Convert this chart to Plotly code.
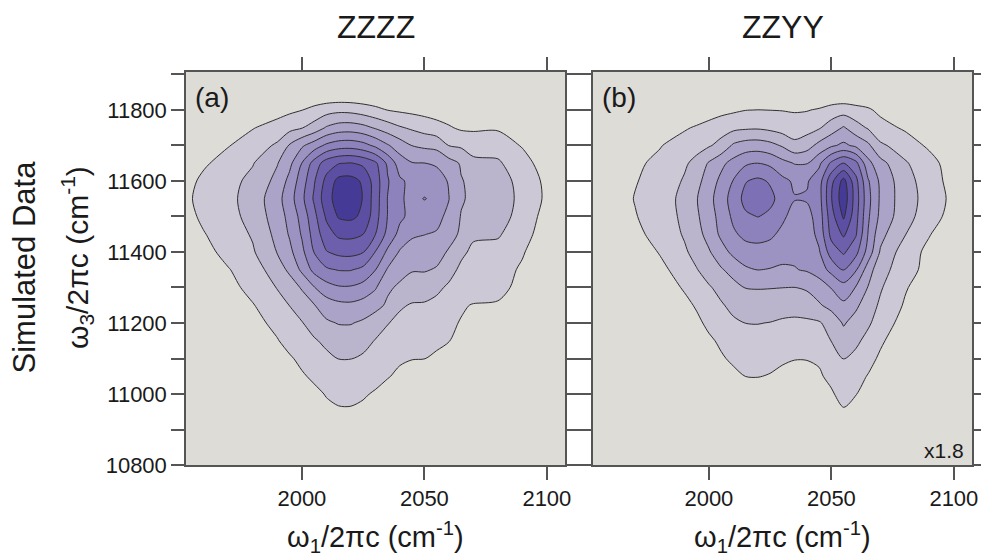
import plotly.graph_objects as go

# Axis grids (cm^-1)
omega1 = [1950, 1960, 1970, 1980, 1990, 1995, 2000, 2005, 2010, 2015, 2020, 2025,
          2030, 2035, 2040, 2045, 2050, 2055, 2060, 2065, 2070, 2080, 2090, 2100, 2110]
omega3 = [10850, 10900, 10950, 11000, 11050, 11100, 11150, 11200, 11250, 11300, 11350,
          11400, 11450, 11500, 11550, 11600, 11650, 11700, 11750, 11800, 11850, 11900]

# Simulated signal, ZZZZ polarization (rows follow omega3, columns follow omega1)
signal_zzzz = [
    [0]*25,
    [0]*25,
    [0.0, 0.0, 0.0, 0.0, 0.0, 0.1, 0.3, 0.55, 0.8, 0.9, 0.9, 0.8, 0.6, 0.45, 0.3, 0.2, 0.1, 0.05, 0.0, 0.0, 0.0, 0.0, 0.0, 0.0, 0.0],
    [0.0, 0.0, 0.0, 0.0, 0.1, 0.3, 0.55, 0.8, 1.05, 1.2, 1.22, 1.1, 0.9, 0.7, 0.55, 0.45, 0.35, 0.25, 0.15, 0.05, 0.0, 0.0, 0.0, 0.0, 0.0],
    [0.0, 0.0, 0.0, 0.0, 0.3, 0.6, 0.9, 1.15, 1.4, 1.55, 1.6, 1.5, 1.3, 1.05, 0.85, 0.75, 0.65, 0.55, 0.4, 0.25, 0.15, 0.0, 0.0, 0.0, 0.0],
    [0.0, 0.0, 0.0, 0.1, 0.6, 0.9, 1.2, 1.5, 1.8, 2.02, 2.02, 1.85, 1.55, 1.3, 1.1, 1.02, 1.01, 0.92, 0.75, 0.55, 0.4, 0.05, 0.0, 0.0, 0.0],
    [0.0, 0.0, 0.0, 0.35, 0.95, 1.3, 1.6, 1.9, 2.2, 2.45, 2.5, 2.35, 1.95, 1.6, 1.4, 1.3, 1.2, 1.1, 1.02, 0.8, 0.6, 0.25, 0.0, 0.0, 0.0],
    [0.0, 0.0, 0.15, 0.7, 1.25, 1.6, 1.95, 2.4, 2.85, 3.05, 3.05, 2.85, 2.5, 2.05, 1.7, 1.55, 1.45, 1.3, 1.15, 0.95, 0.75, 0.45, 0.1, 0.0, 0.0],
    [0.0, 0.0, 0.45, 0.95, 1.6, 2.02, 2.45, 2.95, 3.5, 3.75, 3.8, 3.6, 3.3, 2.85, 2.15, 1.9, 1.9, 1.75, 1.35, 1.1, 0.95, 0.9, 0.3, 0.0, 0.0],
    [0.0, 0.2, 0.7, 1.3, 2.05, 2.5, 3.1, 3.95, 4.6, 4.9, 4.9, 4.65, 4.1, 3.15, 2.85, 2.65, 2.45, 2.2, 1.85, 1.6, 1.5, 1.3, 0.7, 0.05, 0.0],
    [0.0, 0.45, 0.95, 1.5, 2.55, 3.2, 4.2, 5.3, 5.85, 6.05, 6.05, 5.75, 5.02, 3.9, 3.3, 3.05, 3.08, 2.92, 2.35, 1.8, 1.65, 1.45, 0.85, 0.15, 0.0],
    [0.1, 0.7, 1.3, 1.9, 3.05, 3.75, 4.75, 6.03, 6.95, 7.25, 7.3, 7.05, 5.97, 4.8, 3.9, 3.7, 3.55, 3.35, 2.9, 2.2, 1.8, 1.7, 1.1, 0.2, 0.0],
    [0.3, 0.95, 1.5, 2.1, 3.3, 4.1, 5.1, 6.4, 7.6, 8.2, 8.25, 8.0, 7.02, 5.7, 4.7, 4.1, 4.02, 3.9, 3.35, 2.85, 2.15, 2.1, 1.45, 0.4, 0.0],
    [0.5, 1.2, 1.65, 2.35, 3.5, 4.3, 5.35, 6.7, 8.15, 9.1, 9.2, 8.8, 7.4, 5.97, 5.2, 4.7, 4.6, 4.35, 3.7, 2.95, 2.75, 2.4, 1.65, 0.6, 0.1],
    [0.6, 1.35, 1.75, 2.42, 3.66, 4.57, 5.75, 7.14, 8.6, 9.45, 9.6, 8.95, 7.5, 5.97, 5.1, 4.8, 5.03, 4.85, 4.03, 3.1, 2.8, 2.4, 1.8, 0.8, 0.2],
    [0.4, 1.25, 1.7, 2.25, 3.3, 4.3, 5.5, 6.9, 8.3, 9.3, 9.35, 8.85, 7.5, 6.1, 5.15, 4.75, 4.7, 4.55, 3.9, 3.05, 2.8, 2.4, 1.7, 0.75, 0.2],
    [0.1, 0.85, 1.45, 1.95, 2.95, 3.75, 5.02, 6.4, 7.5, 7.95, 8.05, 7.8, 7.2, 5.8, 4.5, 4.05, 4.02, 3.85, 3.4, 2.9, 2.15, 2.1, 1.55, 0.3, 0.0],
    [0.0, 0.4, 0.95, 1.5, 2.15, 3.1, 3.85, 4.5, 5.2, 5.55, 5.6, 5.35, 4.8, 4.1, 3.5, 2.98, 2.8, 2.7, 1.98, 1.85, 1.75, 1.7, 0.9, 0.2, 0.0],
    [0.0, 0.0, 0.45, 0.95, 1.4, 1.7, 1.95, 2.4, 3.1, 3.45, 3.5, 3.3, 2.9, 2.5, 2.1, 1.85, 1.6, 1.35, 1.1, 0.85, 0.8, 0.85, 0.4, 0.0, 0.0],
    [0.0, 0.0, 0.1, 0.35, 0.6, 0.8, 0.98, 1.3, 1.6, 1.75, 1.7, 1.5, 1.25, 0.98, 0.85, 0.75, 0.65, 0.55, 0.45, 0.35, 0.3, 0.2, 0.0, 0.0, 0.0],
    [0]*25,
    [0]*25,
]

# Simulated signal, ZZYY polarization (displayed scaled by 1.8)
signal_zzyy = [
    [0]*25,
    [0]*25,
    [0.0, 0.0, 0.0, 0.0, 0.0, 0.0, 0.0, 0.0, 0.0, 0.05, 0.1, 0.1, 0.05, 0.05, 0.1, 0.3, 0.5, 0.9, 0.6, 0.3, 0.1, 0.0, 0.0, 0.0, 0.0],
    [0.0, 0.0, 0.0, 0.0, 0.0, 0.0, 0.0, 0.15, 0.3, 0.45, 0.5, 0.45, 0.35, 0.3, 0.4, 0.6, 0.9, 1.3, 1.03, 0.7, 0.35, 0.0, 0.0, 0.0, 0.0],
    [0.0, 0.0, 0.0, 0.0, 0.0, 0.0, 0.25, 0.5, 0.8, 1.01, 1.03, 0.95, 0.8, 0.7, 0.75, 0.9, 1.2, 1.6, 1.3, 0.95, 0.6, 0.0, 0.0, 0.0, 0.0],
    [0.0, 0.0, 0.0, 0.0, 0.0, 0.2, 0.55, 0.9, 1.15, 1.3, 1.32, 1.25, 1.12, 1.03, 1.03, 1.1, 1.5, 2.02, 1.75, 1.3, 0.85, 0.15, 0.0, 0.0, 0.0],
    [0.0, 0.0, 0.0, 0.0, 0.1, 0.45, 0.85, 1.15, 1.4, 1.55, 1.6, 1.55, 1.45, 1.4, 1.45, 1.6, 2.02, 2.55, 2.2, 1.7, 1.15, 0.35, 0.0, 0.0, 0.0],
    [0.0, 0.0, 0.0, 0.0, 0.4, 0.8, 1.2, 1.55, 1.85, 2.01, 2.03, 1.97, 1.85, 1.8, 1.8, 1.9, 2.4, 3.1, 2.6, 2.15, 1.55, 0.6, 0.05, 0.0, 0.0],
    [0.0, 0.0, 0.0, 0.15, 0.75, 1.1, 1.55, 1.9, 2.25, 2.55, 2.65, 2.6, 2.45, 2.4, 2.6, 2.9, 3.3, 3.8, 3.2, 2.45, 1.85, 0.9, 0.2, 0.0, 0.0],
    [0.0, 0.0, 0.0, 0.45, 1.1, 1.5, 1.9, 2.3, 2.7, 3.03, 3.04, 3.03, 3.01, 2.99, 3.1, 3.45, 4.05, 4.6, 3.95, 2.95, 2.1, 1.1, 0.4, 0.0, 0.0],
    [0.0, 0.0, 0.2, 0.8, 1.35, 1.95, 2.45, 2.9, 3.35, 3.85, 4.02, 3.95, 3.85, 3.95, 4.1, 4.5, 5.3, 6.05, 5.1, 3.5, 2.3, 1.55, 0.55, 0.0, 0.0],
    [0.0, 0.0, 0.55, 1.05, 1.85, 2.35, 2.9, 3.6, 4.25, 4.6, 4.65, 4.55, 4.35, 4.2, 4.5, 4.9, 6.5, 7.15, 6.3, 4.6, 2.9, 1.5, 0.75, 0.1, 0.0],
    [0.0, 0.15, 0.8, 1.3, 2.1, 2.65, 3.35, 4.2, 4.85, 5.25, 5.35, 5.2, 4.75, 4.3, 4.45, 5.3, 7.3, 8.15, 7.1, 4.95, 3.3, 2.05, 1.05, 0.3, 0.0],
    [0.0, 0.35, 0.95, 1.5, 2.2, 2.85, 3.55, 4.35, 5.2, 5.85, 6.02, 5.8, 5.2, 4.6, 4.65, 5.45, 7.6, 9.15, 7.35, 5.15, 3.75, 2.35, 1.5, 0.55, 0.0],
    [0.0, 0.45, 1.05, 1.55, 2.25, 2.95, 3.7, 4.5, 5.45, 6.3, 6.6, 6.25, 5.6, 5.05, 5.1, 5.6, 7.95, 9.65, 7.5, 5.3, 3.85, 2.4, 1.65, 0.7, 0.1],
    [0.0, 0.3, 0.95, 1.35, 2.1, 2.7, 3.45, 4.25, 5.05, 5.95, 6.2, 5.9, 5.25, 4.85, 4.9, 5.55, 7.7, 9.35, 7.3, 5.1, 3.8, 2.35, 1.55, 0.55, 0.05],
    [0.0, 0.1, 0.85, 1.2, 1.85, 2.3, 3.1, 3.75, 4.35, 4.85, 5.02, 4.8, 4.3, 3.95, 3.95, 4.8, 6.2, 7.05, 6.3, 4.3, 3.35, 2.1, 1.45, 0.35, 0.0],
    [0.0, 0.0, 0.35, 0.95, 1.4, 1.65, 1.9, 2.3, 3.15, 3.45, 3.5, 3.3, 2.9, 2.3, 2.6, 3.3, 3.85, 4.2, 3.8, 3.2, 2.15, 1.6, 0.8, 0.1, 0.0],
    [0.0, 0.0, 0.0, 0.45, 0.9, 1.1, 1.35, 1.6, 1.75, 1.85, 1.88, 1.75, 1.55, 1.4, 1.6, 1.9, 2.5, 3.1, 2.4, 1.9, 1.4, 0.85, 0.3, 0.0, 0.0],
    [0.0, 0.0, 0.0, 0.0, 0.2, 0.35, 0.5, 0.7, 0.85, 0.98, 1.01, 0.99, 0.97, 0.93, 0.95, 1.1, 1.4, 1.55, 1.35, 1.15, 0.75, 0.35, 0.05, 0.0, 0.0],
    [0]*25,
    [0]*25,
]

panel_titles = ["ZZZZ", "ZZYY"]
panel_tags = ["(a)", "(b)"]
scale_note = "x1.8"

x_ticks = [2000, 2050, 2100]
y_ticks = [10800, 11000, 11200, 11400, 11600, 11800]

# One fill colour per contour band: background, then levels 1..9
band_colors = ["#dedcd7", "#cdc8d5", "#bbb4cd", "#aba3c8", "#9d93c3",
               "#8d82bc", "#7e70b4", "#6d5fab", "#5c4ea2", "#453a95"]
colorscale = [[i / 9, c] for i, c in enumerate(band_colors)]

FONT = "Liberation Sans, Arial, Helvetica, sans-serif"
INK = "#1a1a1a"
AXIS = "#555555"
PLOT_BG = band_colors[0]

fig = go.Figure()
for i, z in enumerate([signal_zzzz, signal_zzyy]):
    suffix = "" if i == 0 else "2"
    fig.add_trace(go.Contour(
        x=omega1, y=omega3, z=z,
        xaxis="x" + suffix, yaxis="y" + suffix,
        contours=dict(start=1, end=9, size=1, coloring="fill"),
        colorscale=colorscale, showscale=False,
        line=dict(color="#2f2f2f", width=1, smoothing=0.85),
        hoverinfo="skip",
    ))

x_domains = [[186 / 981, 565 / 981], [593 / 981, 972 / 981]]
y_domain = [93 / 558, 486 / 558]

common_x = dict(range=[1952.7, 2107.4], tickvals=x_ticks, tickformat="d",
                ticks="outside", ticklen=13, automargin=False,
                tickwidth=1.5, tickcolor=AXIS, showline=True, linecolor=AXIS, linewidth=1.5,
                mirror="ticks", showgrid=False, zeroline=False,
                tickfont=dict(family=FONT, size=22, color=INK))
common_y = dict(range=[10800, 11907], tickvals=y_ticks, tickformat="d",
                ticks="outside", ticklen=13, automargin=False,
                tickwidth=1.5, tickcolor=AXIS, showline=True, linecolor=AXIS, linewidth=1.5,
                mirror="ticks", showgrid=False, zeroline=False,
                minor=dict(dtick=100, tick0=10800, ticks="outside", ticklen=13,
                           tickwidth=1.5, tickcolor=AXIS, showgrid=False),
                tickfont=dict(family=FONT, size=22, color=INK))

fig.update_layout(
    width=981, height=558,
    margin=dict(l=0, r=0, t=0, b=0, autoexpand=False),
    paper_bgcolor="white", plot_bgcolor=PLOT_BG,
    showlegend=False,
    xaxis=dict(domain=x_domains[0], anchor="y", **common_x),
    yaxis=dict(domain=y_domain, anchor="x", **common_y),
    xaxis2=dict(domain=x_domains[1], anchor="y2", **common_x),
    yaxis2=dict(domain=y_domain, anchor="x2", showticklabels=False, **common_y),
)

annotations = []
x_title = "\u03c9<sub>1</sub>/2\u03c0c (cm<sup>-1</sup>)"
for i in range(2):
    cx = (x_domains[i][0] + x_domains[i][1]) / 2
    annotations.append(dict(text=panel_titles[i], x=cx, y=(558 - 26.5) / 558,
                            font=dict(family=FONT, size=32, color=INK)))
    annotations.append(dict(text=x_title, x=cx, y=(558 - 537) / 558,
                            font=dict(family=FONT, size=29, color=INK)))
annotations.append(dict(text=panel_tags[0], x=212 / 981, y=(558 - 97) / 558,
                        font=dict(family=FONT, size=28, color=INK)))
annotations.append(dict(text=panel_tags[1], x=618.5 / 981, y=(558 - 97.5) / 558,
                        font=dict(family=FONT, size=28, color=INK)))
annotations.append(dict(text=scale_note, x=966 / 981, y=(558 - 450.5) / 558, xanchor="right",
                        font=dict(family=FONT, size=21, color=INK)))
annotations.append(dict(text="Simulated Data", x=24 / 981, y=(558 - 267.5) / 558,
                        textangle=-90, font=dict(family=FONT, size=31, color=INK)))
annotations.append(dict(text="\u03c9<sub>3</sub>/2\u03c0c (cm<sup>-1</sup>)", x=77 / 981,
                        y=(558 - 258) / 558, textangle=-90,
                        font=dict(family=FONT, size=30, color=INK)))
for a in annotations:
    a.setdefault("xanchor", "center")
    a.update(xref="paper", yref="paper", yanchor="middle", showarrow=False)
fig.update_layout(annotations=annotations)

fig.write_html("out.html")
